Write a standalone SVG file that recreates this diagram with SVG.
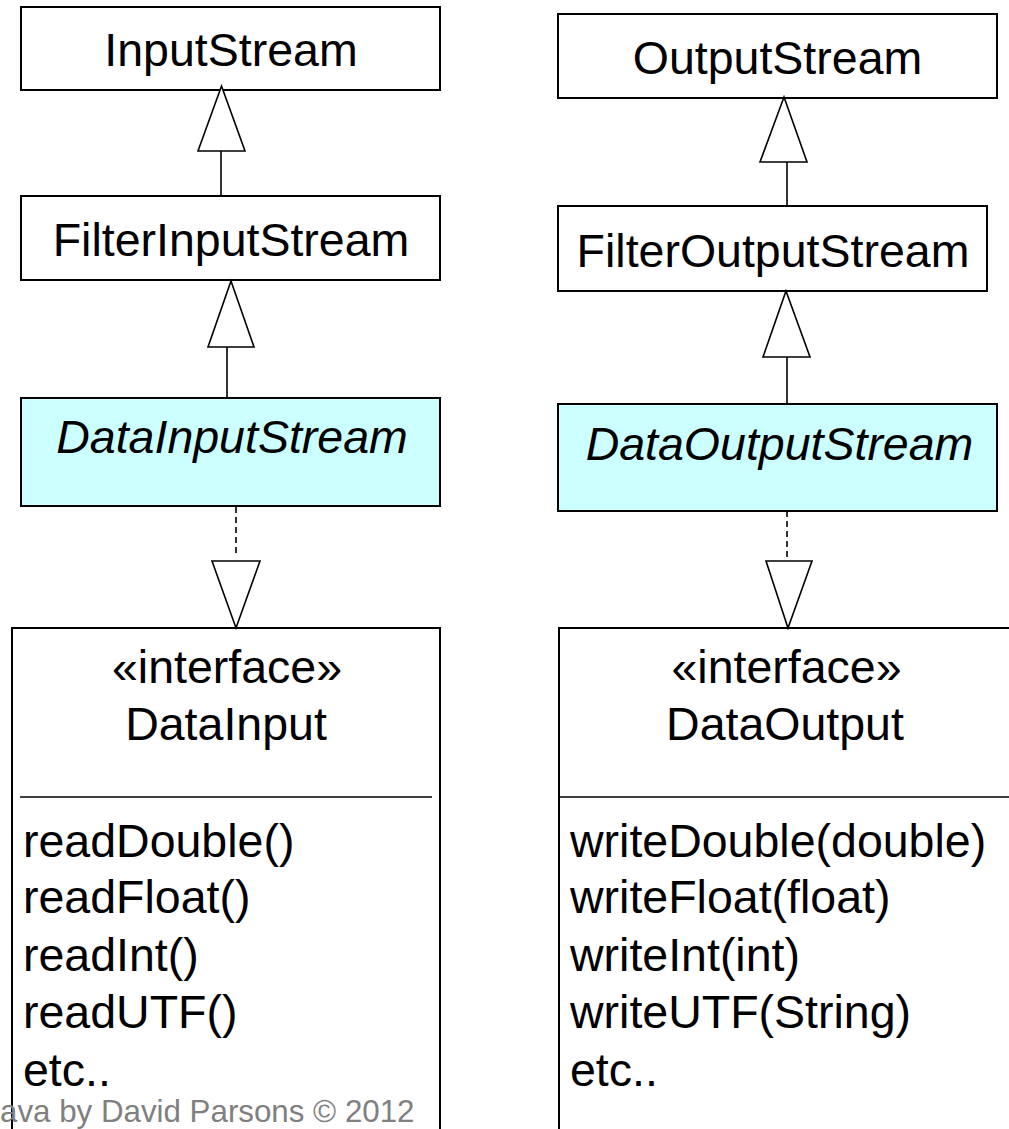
<svg xmlns="http://www.w3.org/2000/svg" width="1009" height="1129" viewBox="0 0 1009 1129">
<style>
.box{fill:#fff;stroke:#000;stroke-width:2}
.cls{fill:#ccffff;stroke:#000;stroke-width:2}
.t{font-family:"Liberation Sans",Arial,sans-serif;font-size:46.5px;fill:#000}
.c{text-anchor:middle}
.i{font-style:italic}
.ln{stroke:#000;stroke-width:1.6;fill:none}
.dash{stroke:#000;stroke-width:1.6;stroke-dasharray:6 4;fill:none}
.tri{fill:#fff;stroke:#000;stroke-width:1.6;stroke-linejoin:miter}
.foot{font-family:"Liberation Sans",Arial,sans-serif;font-size:31.3px;fill:#808080}
</style>
<rect width="1009" height="1129" fill="#fff"/>
<g id="InputStream">
<rect class="box" x="21" y="7" width="419" height="83"/>
<text class="t c" x="231" y="66">InputStream</text>
</g>
<g id="FilterInputStream">
<rect class="box" x="21" y="196" width="419" height="84"/>
<text class="t c" x="231" y="256">FilterInputStream</text>
</g>
<g id="DataInputStream">
<rect class="cls" x="21" y="398" width="419" height="108"/>
<text class="t c i" x="232" y="453">DataInputStream</text>
</g>
<g id="DataInput">
<rect class="box" x="12" y="628" width="428" height="520"/>
<line class="ln" x1="20" y1="797" x2="432" y2="797"/>
<text class="t c" x="227" y="683">«interface»</text>
<text class="t c" x="226" y="740">DataInput</text>
<text class="t" x="23" y="857">readDouble()</text>
<text class="t" x="23" y="913">readFloat()</text>
<text class="t" x="23" y="971">readInt()</text>
<text class="t" x="23" y="1028">readUTF()</text>
<text class="t" x="23" y="1086">etc..</text>
</g>
<g id="OutputStream">
<rect class="box" x="558" y="14" width="439" height="84"/>
<text class="t c" x="777.5" y="74">OutputStream</text>
</g>
<g id="FilterOutputStream">
<rect class="box" x="558" y="206" width="429" height="85"/>
<text class="t c" x="773" y="267">FilterOutputStream</text>
</g>
<g id="DataOutputStream">
<rect class="cls" x="558" y="404" width="439" height="107"/>
<text class="t c i" x="779.5" y="460">DataOutputStream</text>
</g>
<g id="DataOutput">
<rect class="box" x="559" y="628" width="470" height="520"/>
<line class="ln" x1="559" y1="797" x2="1009" y2="797"/>
<text class="t c" x="786.5" y="683">«interface»</text>
<text class="t c" x="785" y="740">DataOutput</text>
<text class="t" x="570" y="857">writeDouble(double)</text>
<text class="t" x="570" y="913">writeFloat(float)</text>
<text class="t" x="570" y="971">writeInt(int)</text>
<text class="t" x="570" y="1028">writeUTF(String)</text>
<text class="t" x="570" y="1086">etc..</text>
</g>
<g id="connectors">
<line class="ln" x1="221" y1="151" x2="221" y2="196"/>
<polygon class="tri" points="221.5,86 245,151 198,151"/>
<line class="ln" x1="227" y1="347" x2="227" y2="398"/>
<polygon class="tri" points="231,281 254,347 208,347"/>
<line class="ln" x1="787" y1="160" x2="787" y2="206"/>
<polygon class="tri" points="784,97 807,162 760,162"/>
<line class="ln" x1="787" y1="357" x2="787" y2="404"/>
<polygon class="tri" points="786,291 810,357 763,357"/>
<line class="dash" x1="236" y1="507" x2="236" y2="555"/>
<polygon class="tri" points="212,561 260,561 236,628"/>
<line class="dash" x1="787" y1="511" x2="787" y2="557"/>
<polygon class="tri" points="766,561 812,561 788,628"/>
</g>
<text class="foot" x="0" y="1122">ava by David Parsons © 2012</text>
</svg>
